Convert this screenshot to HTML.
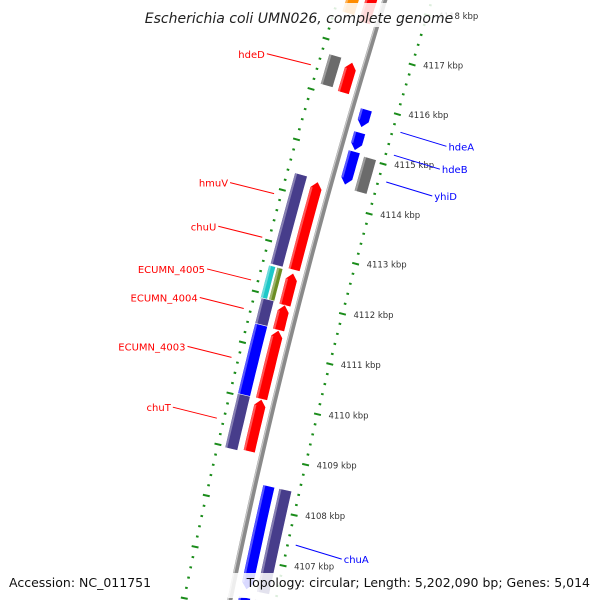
<!DOCTYPE html>
<html><head><meta charset="utf-8"><style>
html,body{margin:0;padding:0;background:#fff;width:600px;height:600px;overflow:hidden}
svg{display:block;overflow:hidden;font-family:"DejaVu Sans","Liberation Sans",sans-serif}
</style></head><body>
<svg id="map" width="600" height="600" viewBox="0 0 600 600" xmlns="http://www.w3.org/2000/svg">
<defs><clipPath id="frame"><rect x="0" y="0" width="600" height="600"/></clipPath></defs>
<rect x="0" y="0" width="600" height="600" fill="#fff"/>
<g clip-path="url(#frame)"><g id="rings"></g><g id="feats"></g><g id="labels"></g></g>
<rect x="146" y="3" width="308" height="24" fill="#fff" opacity="0.85"/>
<text x="299" y="23" text-anchor="middle" font-size="14" font-style="italic" fill="#222">Escherichia coli UMN026, complete genome</text>
<text x="9" y="587" font-size="12.5" fill="#111">Accession: NC_011751</text>
<rect x="228" y="573" width="367" height="25" fill="#fff" opacity="0.85"/>
<text x="590" y="587" text-anchor="end" font-size="12.5" fill="#111">Topology: circular; Length: 5,202,090 bp; Genes: 5,014</text>
</svg>
<script>
const featStart=[4117.5,4117.58,4116.1,4116.14,4112.58,4112.58,4111.88,4111.89,4111.89,4111.37,4111.39,4110.03,4109.99,4109.0,4108.97,4115.56,4115.10,4114.41,4114.35,4106.4,4106.4,4104.5,4104.5];
const featEnd=[4119.0,4119.0,4116.71,4116.74,4114.33,4114.38,4112.52,4112.55,4112.55,4111.91,4111.89,4111.39,4111.41,4110.03,4110.03,4115.92,4115.46,4115.08,4115.04,4108.44,4108.44,4106.25,4106.25];
const featTrack=[13,31,13,31,13,31,13,35,27,31,13,13,31,13,31,-14,-14,-14,-31,-14,-31,-14,-31];
const featColor=["#ff0000","#ff8c00","#ff0000","#6b6b6b","#ff0000","#473d8b","#ff0000","#1ec8c8","#6b8e23","#473d8b","#ff0000","#ff0000","#0000ff","#ff0000","#473d8b","#0000ff","#0000ff","#0000ff","#6b6b6b","#0000ff","#473d8b","#0000ff","#473d8b"];
const featArrow=[1,0,1,0,1,0,1,0,0,0,1,1,0,1,0,-1,-1,-1,0,-1,0,-1,0];
const featWidth=[12,13,12,13,12,13,12,7,6,13,12,12,13,12,13,12,12,12,13,12,13,12,13];
const tickLabels=[4107,4108,4109,4110,4111,4112,4113,4114,4115,4116,4117,4118];
const leftLabels=["hdeD","hmuV","chuU","ECUMN_4005","ECUMN_4004","ECUMN_4003","chuT"];
const leftLabelKbp=[4116.44,4113.89,4113.03,4112.19,4111.63,4110.67,4109.48];
const rightLabels=["hdeA","hdeB","yhiD","chuA"];
const rightLabelKbp=[4115.68,4115.22,4114.68,4107.44];

const NS="http://www.w3.org/2000/svg";
const CX=6485,CY=1896,R0=6388;
function pt(k,o){const a=0.2113+(k-4107)*0.00816;const r=R0+o;return [CX-r*Math.cos(a),CY-r*Math.sin(a)];}
function mk(tag,attrs,parent){const e=document.createElementNS(NS,tag);for(const k in attrs)e.setAttribute(k,attrs[k]);parent.appendChild(e);return e;}
const rings=document.getElementById('rings'),feats=document.getElementById('feats'),labs=document.getElementById('labels');
let d="";for(let k=4104;k<=4119.5;k+=0.5){const p=pt(k,0);d+=(d?"L":"M")+p[0].toFixed(1)+","+p[1].toFixed(1);}
let bb=mk('path',{d:d,stroke:"#8a8a8a","stroke-width":5,fill:"none"},rings);


let bb2=mk('path',{d:d,stroke:"#c8c8c8","stroke-width":1.2,fill:"none",transform:"translate(-1.6,-0.4)"},rings);


for(let i=41040;i<=41195;i+=2){const k=i/10;const major=(i%10===0);
 [-45,45].forEach(function(o){const h=major?3.5:1.3;
  const a=pt(k,o-h),b=pt(k,o+h);
  const t=mk('line',{x1:a[0],y1:a[1],x2:b[0],y2:b[1],stroke:"#1a8c1a","stroke-width":2},rings);
  
  });}
tickLabels.forEach(function(k){const p=pt(k,-45);
 const t=mk('text',{x:p[0]+11,y:p[1]+4,"font-size":8.5,fill:"#333"},labs);t.textContent=k+" kbp";
 
 });
for(let i=0;i<featStart.length;i++){
 const s=featStart[i],e=featEnd[i],o=featTrack[i],w=featWidth[i]/2,arr=featArrow[i];
 const head=0.13;let pts=[];
 let s2=s,e2=e;if(arr===1)e2=Math.max(s,e-head);if(arr===-1)s2=Math.min(e,s+head);
 const n=6;
 for(let j=0;j<=n;j++){pts.push(pt(s2+(e2-s2)*j/n,o+w));}
 if(arr===1)pts.push(pt(e,o));
 for(let j=n;j>=0;j--){pts.push(pt(s2+(e2-s2)*j/n,o-w));}
 if(arr===-1)pts.push(pt(s,o));
 const poly=mk('polygon',{points:pts.map(p=>p[0].toFixed(1)+","+p[1].toFixed(1)).join(" "),fill:featColor[i],stroke:"#fff","stroke-width":0.6},feats);
 
 
 let hp=[];for(let j=0;j<=n;j++)hp.push(pt(s2+(e2-s2)*j/n,o+w-1.5));
 const hl=mk('polyline',{points:hp.map(p=>p[0].toFixed(1)+","+p[1].toFixed(1)).join(" "),stroke:"#fff","stroke-opacity":0.35,"stroke-width":2,fill:"none"},feats);
 
 
}
leftLabels.forEach(function(name,i){const p=pt(leftLabelKbp[i],52);
 const sx=p[0]-44,sy=p[1]-11;
 const ln=mk('line',{x1:sx,y1:sy,x2:p[0],y2:p[1],stroke:"#f00","stroke-width":1},labs);
 const tx=mk('text',{x:sx-2,y:sy+4,"font-size":10,fill:"#f00","text-anchor":"end"},labs);tx.textContent=name;
 
 
 
 });
rightLabels.forEach(function(name,i){const p=pt(rightLabelKbp[i],-53);
 const ex=p[0]+46,ey=p[1]+14;
 const ln=mk('line',{x1:p[0],y1:p[1],x2:ex,y2:ey,stroke:"#00f","stroke-width":1},labs);
 const tx=mk('text',{x:ex+2,y:ey+4,"font-size":10,fill:"#00f"},labs);tx.textContent=name;
 
 
 
 });
</script>
</body></html>
